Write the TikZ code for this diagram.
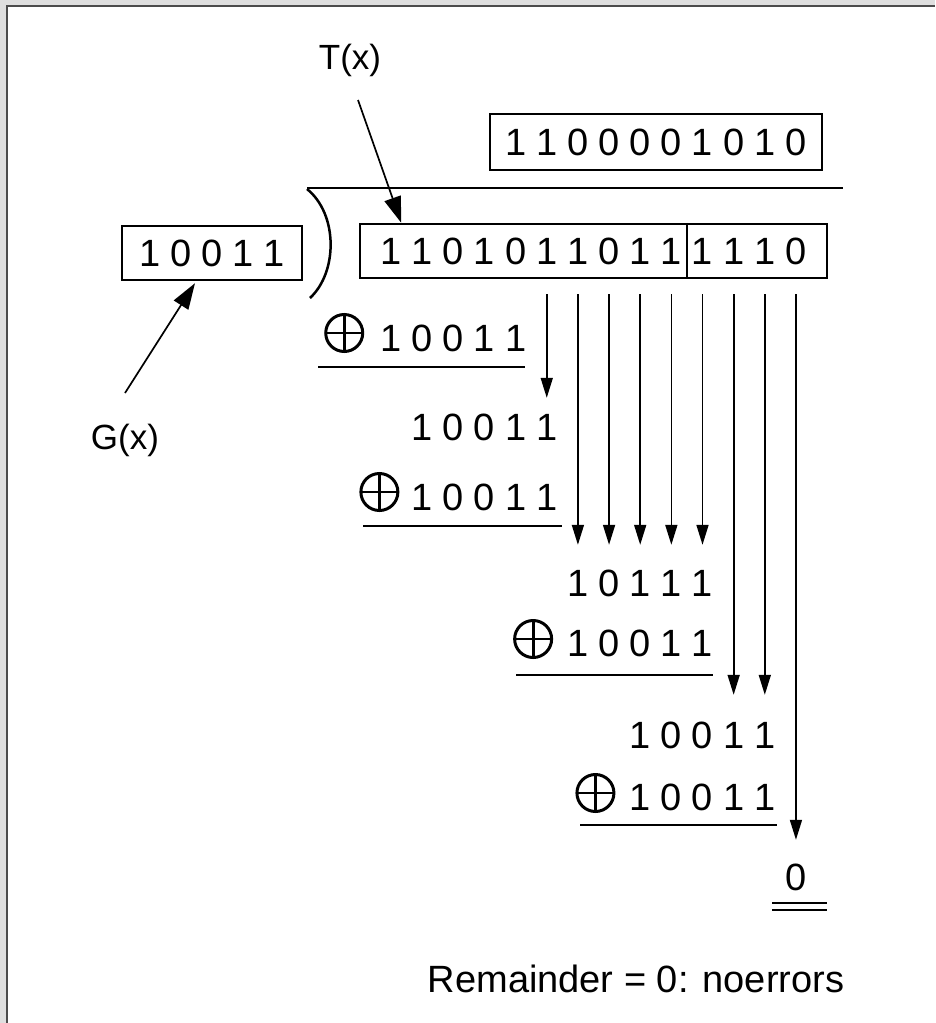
\documentclass[tikz,border=0pt]{standalone}
\usepackage{fontspec}
\setmainfont{Liberation Sans}
\usetikzlibrary{positioning, arrows.meta, fit}

\newcommand\bitfont{\fontsize{38}{40}\selectfont}
\newcommand\tagfont{\fontsize{35}{38}\selectfont}

\begin{document}
\begin{tikzpicture}[
        x=1pt, y=-1pt,
        node distance=14pt,
        declare function={col(\i)=391+31.15*\i;},
        bit/.style={font=\bitfont, inner sep=0pt, text height=27pt, text depth=0pt},
        tag/.style={font=\tagfont, inner sep=0pt},
        frame/.style={draw=black, line width=2pt},
        xor/.style={circle, draw=black, line width=3pt, minimum size=37pt, inner sep=0pt,
            path picture={\draw[line width=2.8pt]
                (path picture bounding box.north) -- (path picture bounding box.south)
                (path picture bounding box.west) -- (path picture bounding box.east);}},
        rule/.style={line width=2.7pt},
        arrow/.style={-{Triangle[length=20pt, width=12pt]}, line width=1.7pt},
        pointer/.style={-{Triangle[length=26pt, width=17pt]}, line width=1.7pt}
    ]
        \useasboundingbox (0,0) rectangle (935,1023);
        \fill[white] (0,0) rectangle (935,1023);
        % screen edge
        \fill[gray!25] (0,0) rectangle (7,1023);
        \fill[gray!25] (0,0) rectangle (935,5);
        \draw[gray!60!black, line width=1.5pt] (7,1023) -- (7,6) -- (935,6);

        % Quotient
        \foreach \b [count=\i from 4] in {1,1,0,0,0,0,1,0,1,0}
            \node[bit] (q\i) at ({col(\i)},142) {\b};
        \node[frame, fit=(q4)(q13), inner xsep=15pt, inner ysep=14pt] (qbox) {};

        % Division bar
        \draw[rule] (307,188) -- (843,188);
        \draw[line width=2.5pt] (307,189) .. controls (338,214) and (338,272) .. (310,298);

        % Dividend T(x)
        \foreach \b [count=\i from 0] in {1,1,0,1,0,1,1,0,1,1,1,1,1,0}
            \node[bit] (t\i) at ({col(\i)},251) {\b};
        \node[frame, fit=(t0)(t13), inner xsep=20pt, inner ysep=13.5pt] (tbox) {};
        \coordinate (cut) at ({col(9.5)},251);
        \draw[frame] (cut |- tbox.north) -- (cut |- tbox.south);

        % Divisor G(x)
        \foreach \b [count=\i from 0] in {1,0,0,1,1}
            \node[bit] (g\i) at ({150+31*\i},253) {\b};
        \node[frame, fit=(g0)(g4), inner xsep=17pt, inner ysep=13.5pt] (gbox) {};

        \node[tag] (tlabel) at (350,60) {T(x)};
        \node[tag] (glabel) at (125,440) {G(x)};

        % Steps
        \foreach \b [count=\i from 0] in {1,0,0,1,1}
            \node[bit] (a\i) at ({col(\i)},338) {\b};
        \node[xor, left=16pt of a0, yshift=5pt] (xa) {};
        \draw[rule] (318,367) -- (525,367);

        \foreach \b [count=\i from 0] in {1,0,0,1,1}
            \node[bit] (b\i) at ({col(\i+1)},427) {\b};

        \foreach \b [count=\i from 0] in {1,0,0,1,1}
            \node[bit] (c\i) at ({col(\i+1)},497) {\b};
        \node[xor, left=12pt of c0, yshift=5pt] (xc) {};
        \draw[rule] (363,526) -- (562,526);

        \foreach \b [count=\i from 0] in {1,0,1,1,1}
            \node[bit] (d\i) at ({col(\i+6)},583) {\b};

        \foreach \b [count=\i from 0] in {1,0,0,1,1}
            \node[bit] (e\i) at ({col(\i+6)},643) {\b};
        \node[xor, left=of e0, yshift=4pt] (xe) {};
        \draw[rule] (516,675) -- (713,675);

        \foreach \b [count=\i from 0] in {1,0,0,1,1}
            \node[bit] (f\i) at ({col(\i+8)},735) {\b};

        \foreach \b [count=\i from 0] in {1,0,0,1,1}
            \node[bit] (h\i) at ({col(\i+8)},797) {\b};
        \node[xor, left=of h0, yshift=4pt] (xh) {};
        \draw[rule] (580,825) -- (777,825);

        \node[bit] (zero) at ({col(13)},877) {0};
        \draw[line width=2.5pt] (772,903) -- (827,903) (772,910) -- (827,910);

        \node[font=\bitfont, inner sep=0pt] (note) at (636,979) {Remainder = 0: noerrors};

        % Paths
        \draw[pointer] ([xshift=8pt, yshift=-40pt]tlabel.center) -- ([xshift=42pt]tbox.north west);
        \draw[pointer] ([yshift=47pt]glabel.center) -- ([xshift=-17pt, yshift=-2pt]gbox.south);

        \draw[arrow, shorten <=15pt, shorten >=15.5pt] (t5 |- tbox.south) -- (b4.north);
        \foreach \i/\j in {6/0,7/1,8/2,9/3,10/4}
            \draw[arrow, shorten <=15pt, shorten >=24.5pt] (t\i |- tbox.south) -- (d\j.north);
        \foreach \i/\j in {11/3,12/4}
            \draw[arrow, shorten <=15pt, shorten >=26.5pt] (t\i |- tbox.south) -- (f\j.north);
        \draw[arrow, shorten <=15pt, shorten >=23.5pt] (t13 |- tbox.south) -- (zero.north);
    \end{tikzpicture}
\end{document}
